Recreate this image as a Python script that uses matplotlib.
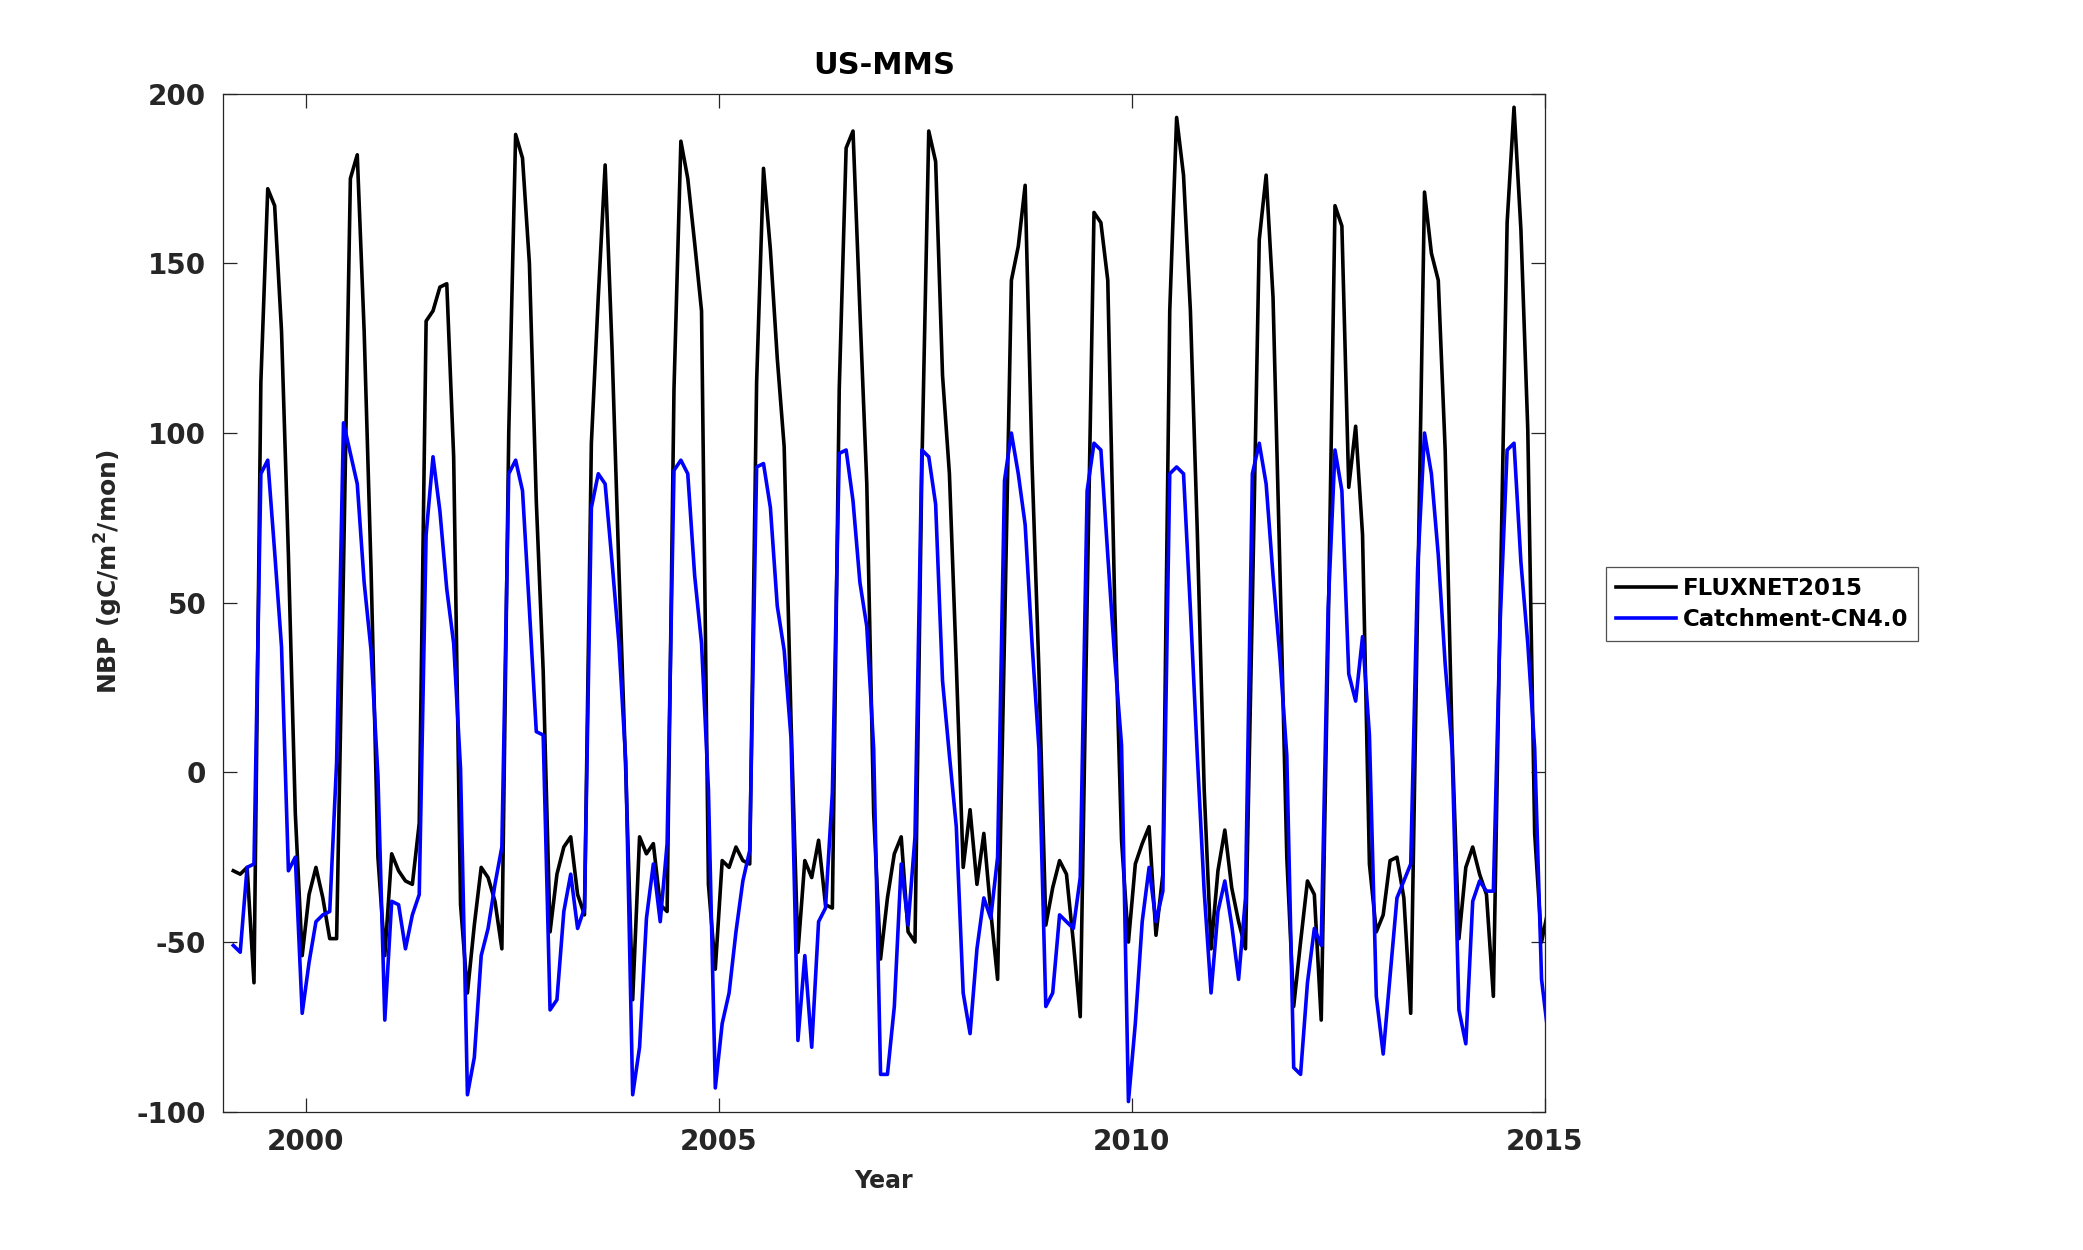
import numpy as np
import matplotlib
matplotlib.use("Agg")
import matplotlib.pyplot as plt

plt.rcParams['font.family'] = ['DejaVu Sans']
plt.rcParams['axes.unicode_minus'] = False

# Monthly series, Feb 1999 .. Jan 2015 (mid-month positions)
start_year = 1999
first_month_index = 1   # Feb 1999 (0 = Jan)

fluxnet2015 = [
    -29, -30, -28, -62, 115, 172, 167, 130, 64, -12, -54,
    -36, -28, -37, -49, -49, 60, 175, 182, 130, 60, -25, -54,
    -24, -29, -32, -33, -15, 133, 136, 143, 144, 93, -39, -65,
    -45, -28, -31, -38, -52, 100, 188, 181, 150, 80, 30, -47,
    -30, -22, -19, -36, -42, 97, 140, 179, 125, 60, 0, -67,
    -19, -24, -21, -39, -41, 113, 186, 175, 156, 136, -33, -58,
    -26, -28, -22, -26, -27, 115, 178, 154, 122, 96, 15, -53,
    -26, -31, -20, -39, -40, 113, 184, 189, 136, 85, -12, -55,
    -37, -24, -19, -47, -50, 90, 189, 180, 117, 88, 32, -28,
    -11, -33, -18, -41, -61, 40, 145, 155, 173, 91, 30, -45,
    -34, -26, -30, -50, -72, 50, 165, 162, 145, 50, -20, -50,
    -27, -21, -16, -48, -30, 136, 193, 176, 136, 71, -5, -52,
    -29, -17, -34, -44, -52, 50, 157, 176, 140, 60, -25, -69,
    -50, -32, -36, -73, 40, 167, 161, 84, 102, 70, -27, -47,
    -42, -26, -25, -37, -71, 50, 171, 153, 145, 95, 10, -49,
    -28, -22, -30, -36, -66, 50, 162, 196, 160, 101, -18, -50,
    -40,
]

catchment_cn40 = [
    -51, -53, -28, -27, 88, 92, 65, 37, -29, -25, -71,
    -56, -44, -42, -41, 3, 103, 94, 85, 56, 36, -1, -73,
    -38, -39, -52, -42, -36, 70, 93, 77, 54, 38, 1, -95,
    -84, -54, -46, -33, -22, 88, 92, 83, 48, 12, 11, -70,
    -67, -41, -30, -46, -40, 78, 88, 85, 62, 38, 3, -95,
    -81, -43, -27, -44, -21, 89, 92, 88, 58, 38, -5, -93,
    -74, -65, -47, -32, -23, 90, 91, 78, 49, 36, 10, -79,
    -54, -81, -44, -40, -6, 94, 95, 80, 56, 43, 7, -89,
    -89, -69, -27, -45, -19, 95, 93, 79, 27, 5, -16, -65,
    -77, -52, -37, -43, -25, 86, 100, 88, 73, 38, 7, -69,
    -65, -42, -44, -46, -31, 83, 97, 95, 64, 34, 8, -97,
    -74, -44, -28, -44, -35, 88, 90, 88, 48, 5, -35, -65,
    -41, -32, -45, -61, -37, 88, 97, 85, 58, 34, 5, -87,
    -89, -62, -46, -51, 48, 95, 83, 29, 21, 40, 11, -66,
    -83, -60, -37, -32, -27, 60, 100, 88, 64, 32, 7, -70,
    -80, -38, -32, -35, -35, 45, 95, 97, 62, 38, 7, -61,
    -78,
]

series_labels = ['FLUXNET2015', 'Catchment-CN4.0']
x_ticks = [2000, 2005, 2010, 2015]
y_ticks = [-100, -50, 0, 50, 100, 150, 200]

n = len(fluxnet2015)
months = np.arange(first_month_index, first_month_index + n)
t = start_year + (months + 0.5) / 12.0

W, H = 2083, 1250
fig = plt.figure(figsize=(W / 100, H / 100), dpi=100)
ax_left, ax_right = 223 / W, 1545 / W
ax_bottom, ax_top = 1 - 1111.7 / H, 1 - 93.7 / H
ax = fig.add_axes([ax_left, ax_bottom, ax_right - ax_left, ax_top - ax_bottom])

ax.plot(t, fluxnet2015, color='black', lw=2.6, label=series_labels[0])
ax.plot(t, catchment_cn40, color=(0, 0, 1), lw=2.6, label=series_labels[1])

ax.set_xlim(1999, 2015)
ax.set_ylim(-100, 200)
ax.set_xticks(x_ticks)
ax.set_yticks(y_ticks)

gray = (0.15, 0.15, 0.15)
for s in ax.spines.values():
    s.set_color(gray)
    s.set_linewidth(0.9)
ax.tick_params(direction='in', length=10, width=0.9, colors=gray,
               top=True, right=True, labelsize=20, pad=12)
for lab in ax.get_xticklabels() + ax.get_yticklabels():
    lab.set_fontweight('bold')
    lab.set_color(gray)

ax.set_title('US-MMS', fontsize=22, fontweight='bold', color='black', pad=14)
ax.set_xlabel('Year', fontsize=17, fontweight='bold', color=gray, labelpad=9)
ax.set_ylabel(r'NBP (gC/m$^{\mathbf{2}}$/mon)', fontsize=18, fontweight='bold',
              color=gray)
ax.yaxis.set_label_coords(-0.074, 0.53)

leg = fig.legend(loc='upper left', bbox_to_anchor=(1605.7 / W, 1 - 566.7 / H),
                 bbox_transform=fig.transFigure, borderaxespad=0,
                 frameon=True, fancybox=False, handlelength=2.6,
                 handletextpad=0.3, borderpad=0.45, labelspacing=0.35,
                 prop={'size': 16.5, 'weight': 'bold'})
leg.get_frame().set_edgecolor(gray)
leg.get_frame().set_linewidth(0.9)

fig.savefig('out.png', dpi=100, facecolor='white')
